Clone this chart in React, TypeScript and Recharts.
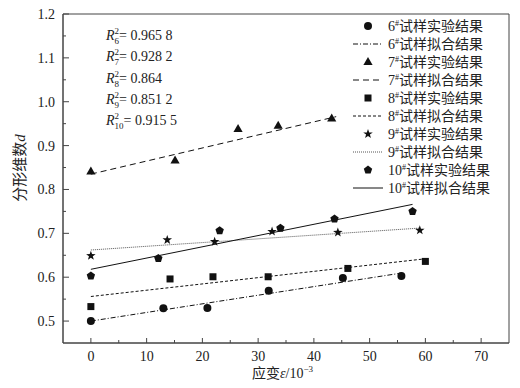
import React from "react";
import { ComposedChart, Scatter, Line, XAxis, YAxis, ReferenceArea } from "recharts";

// strain (10^-3) and fractal dimension
const strain6 = [0, 13.0, 20.9, 31.9, 45.2, 55.7];
const dim6 = [0.5, 0.529, 0.53, 0.569, 0.598, 0.603];
const strain7 = [0, 15.1, 26.4, 33.6, 43.2];
const dim7 = [0.841, 0.866, 0.938, 0.945, 0.962];
const strain8 = [0, 14.2, 21.9, 31.8, 46.1, 60.0];
const dim8 = [0.533, 0.596, 0.601, 0.601, 0.62, 0.636];
const strain9 = [0, 13.7, 22.2, 32.5, 44.3, 59.0];
const dim9 = [0.649, 0.685, 0.681, 0.704, 0.702, 0.707];
const strain10 = [0, 12.1, 23.1, 34.0, 43.7, 57.7];
const dim10 = [0.603, 0.643, 0.706, 0.712, 0.733, 0.75];

// fitted line end points
const fitStrain6 = [0, 56];
const fitDim6 = [0.5, 0.61];
const fitStrain7 = [0, 44];
const fitDim7 = [0.835, 0.966];
const fitStrain8 = [0, 60];
const fitDim8 = [0.556, 0.642];
const fitStrain9 = [0, 59];
const fitDim9 = [0.662, 0.712];
const fitStrain10 = [0, 57.7];
const fitDim10 = [0.618, 0.766];

const sampleIds = ["6", "7", "8", "9", "10"];
const rSquared = ["0.965 8", "0.928 2", "0.864", "0.851 2", "0.915 5"];

const xTicks = [0, 5, 10, 15, 20, 25, 30, 35, 40, 45, 50, 55, 60, 65, 70];
const yTicks = [0.5, 0.55, 0.6, 0.65, 0.7, 0.75, 0.8, 0.85, 0.9, 0.95, 1.0, 1.05, 1.1, 1.15, 1.2];

const FONT = '"Liberation Serif", "Noto Sans CJK SC", serif';
const AXIS = "#444";
const INK = "#111";

const toPoints = (xs: number[], ys: number[]) => xs.map((x, i) => ({ x, y: ys[i] }));

type Kind = "circle" | "triangle" | "square" | "star" | "pentagon";

function Marker({ kind, cx, cy }: { kind: Kind; cx: number; cy: number }) {
  if (kind === "circle") return <circle cx={cx} cy={cy} r={4} fill={INK} />;
  if (kind === "square") return <rect x={cx - 3.5} y={cy - 3.5} width={7} height={7} fill={INK} />;
  if (kind === "triangle")
    return <path d={`M${cx},${cy - 5}L${cx + 4.6},${cy + 3}L${cx - 4.6},${cy + 3}Z`} fill={INK} />;
  const n = 5;
  const outer = kind === "star" ? 5 : 4.4;
  const inner = kind === "star" ? 2 : outer;
  const steps = kind === "star" ? n * 2 : n;
  const pts: string[] = [];
  for (let i = 0; i < steps; i++) {
    const a = -Math.PI / 2 + (i * 2 * Math.PI) / steps;
    const r = kind === "star" && i % 2 === 1 ? inner : outer;
    pts.push(`${(cx + r * Math.cos(a)).toFixed(2)},${(cy + r * Math.sin(a)).toFixed(2)}`);
  }
  return <polygon points={pts.join(" ")} fill={INK} />;
}

const series = [
  { id: sampleIds[0], kind: "circle" as Kind, dash: "5 2 1 2", color: INK, pts: toPoints(strain6, dim6), fit: toPoints(fitStrain6, fitDim6) },
  { id: sampleIds[1], kind: "triangle" as Kind, dash: "6 4", color: INK, pts: toPoints(strain7, dim7), fit: toPoints(fitStrain7, fitDim7) },
  { id: sampleIds[2], kind: "square" as Kind, dash: "3 2", color: INK, pts: toPoints(strain8, dim8), fit: toPoints(fitStrain8, fitDim8) },
  { id: sampleIds[3], kind: "star" as Kind, dash: "1 1", color: "#555", pts: toPoints(strain9, dim9), fit: toPoints(fitStrain9, fitDim9) },
  { id: sampleIds[4], kind: "pentagon" as Kind, dash: undefined, color: INK, pts: toPoints(strain10, dim10), fit: toPoints(fitStrain10, fitDim10) },
];

const XTick = (props: any) => {
  const { x, y, payload } = props;
  const v = payload.value as number;
  const major = v % 10 === 0;
  return (
    <g>
      <line x1={x} x2={x} y1={y} y2={y - (major ? 5 : 3)} stroke={AXIS} />
      {major && (
        <text x={x} y={y + 18} textAnchor="middle" fontFamily={FONT} fontSize={14} fill="#222">
          {v}
        </text>
      )}
    </g>
  );
};

const YTick = (props: any) => {
  const { x, y, payload } = props;
  const v = payload.value as number;
  const major = Math.abs(v * 10 - Math.round(v * 10)) < 1e-6;
  return (
    <g>
      <line x1={x} x2={x + (major ? 6 : 3)} y1={y} y2={y} stroke={AXIS} />
      {major && (
        <text x={x - 8} y={y + 5} textAnchor="end" fontFamily={FONT} fontSize={14} fill="#222">
          {v.toFixed(1)}
        </text>
      )}
    </g>
  );
};

function Overlay() {
  const legendTop = 26;
  const legendStep = 18;
  return (
    <svg width={520} height={388} style={{ position: "absolute", left: 0, top: 0, pointerEvents: "none" }}>
      {/* R^2 annotations */}
      {sampleIds.map((id, i) => (
        <text key={id} x={106} y={40 + i * 21.3} fontFamily={FONT} fontSize={14} fill="#222">
          <tspan fontStyle="italic">R</tspan>
          <tspan dy={-6} fontSize={9}>2</tspan>
          <tspan dx={-4.5} dy={10} fontSize={9}>{id}</tspan>
          <tspan dy={-4}>= {rSquared[i]}</tspan>
        </text>
      ))}
      {/* legend */}
      {series.map((s, i) => {
        const yExp = legendTop + i * 2 * legendStep;
        const yFit = yExp + legendStep;
        return (
          <g key={s.id}>
            <Marker kind={s.kind} cx={368} cy={yExp} />
            <text x={388} y={yExp + 5} fontFamily={FONT} fontSize={14} fill="#222">
              {s.id}
              <tspan dy={-5} fontSize={8}>#</tspan>
              <tspan dy={5}>试样实验结果</tspan>
            </text>
            <line x1={353} x2={383} y1={yFit} y2={yFit} stroke={s.color} strokeDasharray={s.dash} />
            <text x={388} y={yFit + 5} fontFamily={FONT} fontSize={14} fill="#222">
              {s.id}
              <tspan dy={-5} fontSize={8}>#</tspan>
              <tspan dy={5}>试样拟合结果</tspan>
            </text>
          </g>
        );
      })}
      {/* axis titles */}
      <text x={252} y={378} fontFamily={FONT} fontSize={14} fill="#222">
        应变<tspan fontStyle="italic">ε</tspan>/10<tspan dy={-6} fontSize={9}>−3</tspan>
      </text>
      <text
        x={25}
        y={168}
        transform="rotate(-90 25 168)"
        textAnchor="middle"
        fontFamily={FONT}
        fontSize={15}
        fill="#222"
      >
        分形维数<tspan fontStyle="italic">d</tspan>
      </text>
    </svg>
  );
}

export default function App() {
  return (
    <div style={{ position: "absolute", left: 0, top: 0, width: 520, height: 388, background: "#fff" }}>
      <ComposedChart width={520} height={388} margin={{ top: 14, right: 11, bottom: 0, left: 0 }}>
        <XAxis
          type="number"
          dataKey="x"
          domain={[-5, 75]}
          ticks={xTicks}
          interval={0}
          allowDataOverflow
          height={45}
          tickSize={0}
          tickMargin={0}
          tickLine={false}
          axisLine={{ stroke: AXIS }}
          tick={<XTick />}
        />
        <YAxis
          type="number"
          dataKey="y"
          domain={[0.45, 1.2]}
          ticks={yTicks}
          interval={0}
          allowDataOverflow
          width={63}
          tickSize={0}
          tickMargin={0}
          tickLine={false}
          axisLine={{ stroke: AXIS }}
          tick={<YTick />}
        />
        <ReferenceArea x1={-5} x2={75} y1={0.45} y2={1.2} fill="none" stroke={AXIS} />
        {series.map((s) => (
          <Line
            key={`fit${s.id}`}
            data={s.fit}
            dataKey="y"
            type="linear"
            stroke={s.color}
            strokeWidth={1}
            strokeDasharray={s.dash}
            dot={false}
            activeDot={false}
            isAnimationActive={false}
          />
        ))}
        {series.map((s) => (
          <Scatter
            key={`pts${s.id}`}
            data={s.pts}
            dataKey="y"
            isAnimationActive={false}
            shape={(p: any) => <Marker kind={s.kind} cx={p.cx} cy={p.cy} />}
          />
        ))}
      </ComposedChart>
      <Overlay />
    </div>
  );
}
